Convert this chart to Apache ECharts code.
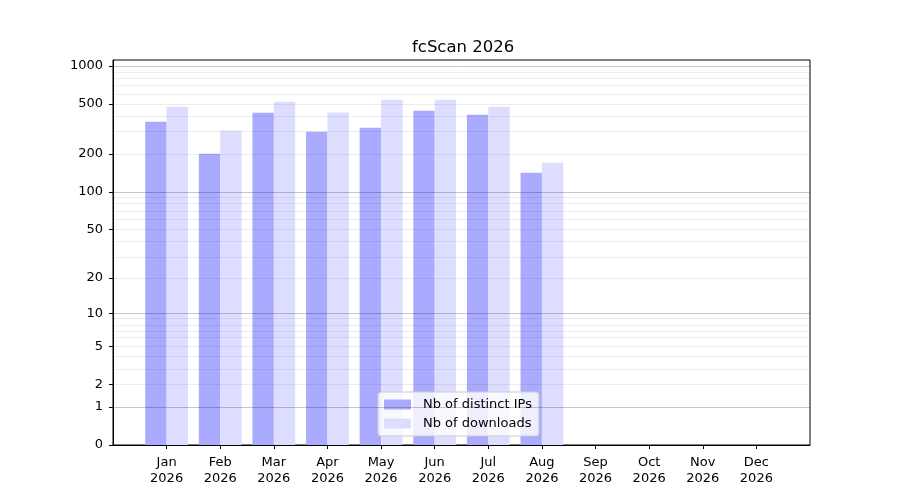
<!DOCTYPE html>
<html>
<head>
<meta charset="utf-8">
<script src="https://cdn.jsdelivr.net/npm/echarts@6/dist/echarts.min.js"></script>
<style>
    html, body { margin: 0; padding: 0; background: #fff; }
    #chart { width: 900px; height: 500px; }
</style>
</head>
<body>
<div id="chart"></div>
<script>
// months + year for the x labels
const months = ['Jan', 'Feb', 'Mar', 'Apr', 'May', 'Jun', 'Jul', 'Aug', 'Sep', 'Oct', 'Nov', 'Dec'];
const year = '2026';

// values (no data after Aug)
const distinctIps = [361, 201, 426, 301, 324, 442, 411, 142, null, null, null, null];
const downloads = [476, 307, 521, 427, 541, 541, 476, 171, null, null, null, null];

// symlog-like axis: y = log10(v + 1)
const yTicks = [0, 1, 2, 5, 10, 20, 50, 100, 200, 500, 1000];
const majorGrid = [1, 10, 100, 1000];
const minorGrid = [2, 3, 4, 5, 6, 7, 8, 9, 20, 30, 40, 50, 60, 70, 80, 90, 200, 300, 400, 500, 600, 700, 800, 900];

const tf = v => (v === null ? null : Math.log10(v + 1));

// empty slot on each side so the months sit like the matplotlib xlim
const categories = [''].concat(months.map(m => m + '\n' + year), ['']);
const pad = arr => [null].concat(arr.map(tf), [null]);

const gridLines = []
    .concat(minorGrid.map(v => ({
        yAxis: tf(v),
        lineStyle: { color: 'rgba(0,0,0,0.07)', width: 1, type: 'solid' }
    })))
    .concat(majorGrid.map(v => ({
        yAxis: tf(v),
        lineStyle: { color: 'rgba(0,0,0,0.22)', width: 1, type: 'solid' }
    })));

const chart = echarts.init(document.getElementById('chart'), null, { renderer: 'canvas' });

const font = 'DejaVu Sans';
const showMonth = index => index > 0 && index < categories.length - 1;

chart.setOption({
    animation: false,
    textStyle: { fontFamily: font },
    title: {
        text: 'fcScan ' + year,
        left: 407,
        top: 34,
        textStyle: { fontFamily: font, fontSize: 16.5, fontWeight: 'normal', color: '#000' }
    },
    grid: {
        left: 113,
        right: 90,
        top: 60,
        bottom: 55,
        show: true,
        borderColor: '#000',
        borderWidth: 1,
        backgroundColor: 'transparent'
    },
    legend: {
        orient: 'vertical',
        left: 378,
        top: 392,
        padding: [6, 7, 6, 6],
        itemGap: 6,
        itemWidth: 27,
        itemHeight: 10,
        icon: 'rect',
        backgroundColor: 'rgba(255,255,255,0.8)',
        borderColor: '#cccccc',
        borderWidth: 1,
        borderRadius: 3,
        textStyle: { fontFamily: font, fontSize: 13, color: '#000', padding: [0, 0, 0, 7] },
        data: ['Nb of distinct IPs', 'Nb of downloads']
    },
    xAxis: {
        type: 'category',
        data: categories,
        boundaryGap: false,
        axisLine: { lineStyle: { color: '#000', width: 1 } },
        axisTick: { show: true, length: 4, interval: showMonth, lineStyle: { color: '#000' } },
        axisLabel: {
            interval: showMonth,
            margin: 10,
            fontFamily: font,
            fontSize: 13,
            lineHeight: 16,
            color: '#000'
        },
        splitLine: { show: false }
    },
    yAxis: {
        type: 'value',
        min: 0,
        max: 3.048,
        axisLine: { show: true, lineStyle: { color: '#000', width: 1 } },
        axisTick: {
            show: true,
            length: 4,
            customValues: yTicks.map(tf),
            lineStyle: { color: '#000' }
        },
        axisLabel: {
            customValues: yTicks.map(tf),
            formatter: v => String(Math.round(Math.pow(10, v) - 1)),
            margin: 10,
            fontFamily: font,
            fontSize: 13,
            color: '#000'
        },
        splitLine: { show: false }
    },
    series: [
        {
            name: 'Nb of distinct IPs',
            type: 'bar',
            data: pad(distinctIps),
            barWidth: 21.4,
            barGap: '0%',
            itemStyle: { color: '#aaaaff' },
            markLine: {
                silent: true,
                symbol: ['none', 'none'],
                label: { show: false },
                emphasis: { disabled: true },
                data: gridLines,
                z: 5
            }
        },
        {
            name: 'Nb of downloads',
            type: 'bar',
            data: pad(downloads),
            barWidth: 21.4,
            barGap: '0%',
            itemStyle: { color: '#ddddff' }
        }
    ]
});
</script>
</body>
</html>
